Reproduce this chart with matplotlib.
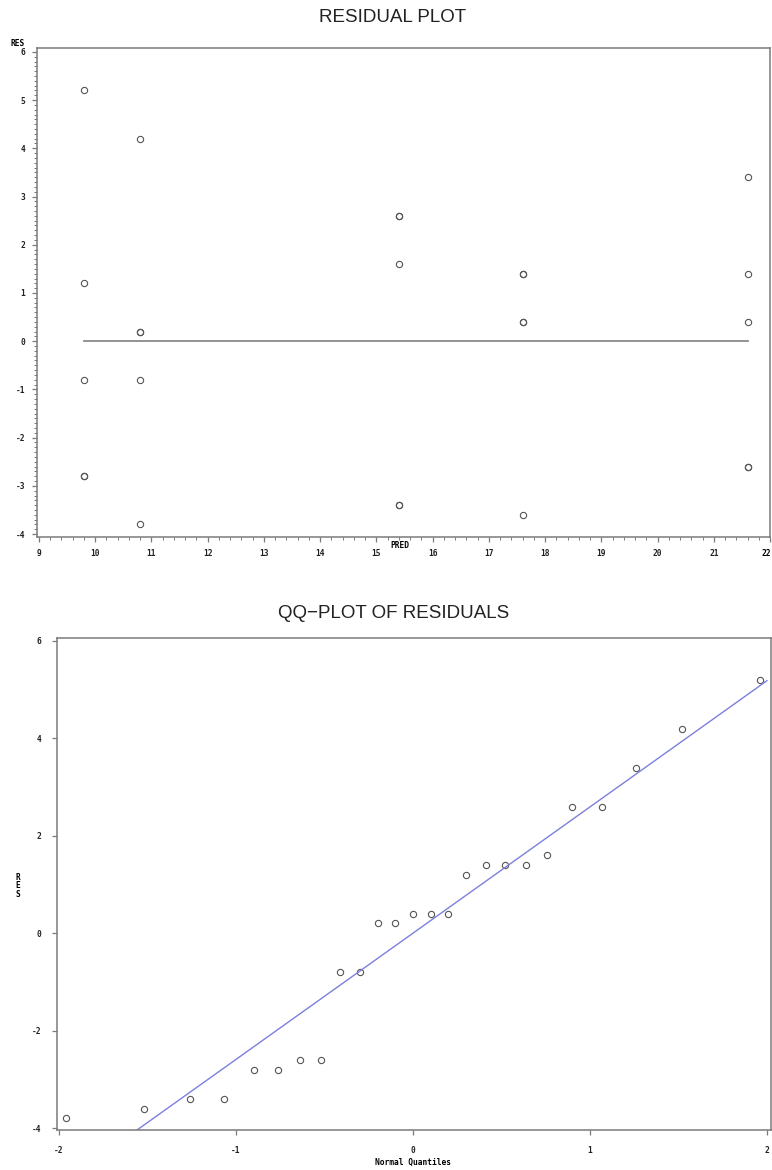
import numpy as np
import matplotlib
matplotlib.use("Agg")
import matplotlib.pyplot as plt
from matplotlib.ticker import MultipleLocator, FuncFormatter

plt.rcParams["axes.unicode_minus"] = False

# predicted values (group means) and the residuals in each group
pred = [9.8, 10.8, 15.4, 17.6, 21.6]
res_98 = [5.2, 1.2, -0.8, -2.8, -2.8]
res_108 = [4.2, 0.2, 0.2, -0.8, -3.8]
res_154 = [2.6, 2.6, 1.6, -3.4, -3.4]
res_176 = [1.4, 1.4, 0.4, 0.4, -3.6]
res_216 = [3.4, 1.4, 0.4, -2.6, -2.6]
groups = [res_98, res_108, res_154, res_176, res_216]

# normal quantiles for the sorted residuals
quantiles = [-1.96, -1.52, -1.26, -1.07, -0.90, -0.76, -0.64, -0.52, -0.41,
             -0.30, -0.20, -0.10, 0.0, 0.10, 0.20, 0.30, 0.41, 0.52, 0.64,
             0.76, 0.90, 1.07, 1.26, 1.52, 1.96]

TICKFONT = dict(family="DejaVu Sans Mono", weight="bold", size=5.7)
SPINE = "#7a7a7a"
MARK = "#555555"

fig = plt.figure(figsize=(7.72, 11.70), dpi=100)


def style_axes(ax):
    for s in ax.spines.values():
        s.set_color(SPINE)
        s.set_linewidth(1.1)
    ax.tick_params(direction="out", colors=SPINE, length=3.5, width=0.9,
                   labelcolor="#222222")
    ax.tick_params(which="minor", direction="out", colors=SPINE, length=2, width=0.7)
    for lab in ax.get_xticklabels() + ax.get_yticklabels():
        lab.set_fontproperties(matplotlib.font_manager.FontProperties(**TICKFONT))


# ---- residual plot ----
ax1 = fig.add_axes([37 / 772, 1 - 537 / 1170, 733 / 772, 489 / 1170])
for x, r in zip(pred, groups):
    ax1.plot([x] * len(r), r, "o", ms=4.5, mfc="none", mec=MARK, mew=0.8)
ax1.plot([pred[0], pred[-1]], [0, 0], color="#8a8a8a", lw=1.3)
ax1.set_xlim(8.965, 22.0)
ax1.set_ylim(-4.06, 6.08)
ax1.xaxis.set_major_locator(MultipleLocator(1))
ax1.xaxis.set_minor_locator(MultipleLocator(0.2))
# last label sits on the figure edge, drawn separately below
ax1.xaxis.set_major_formatter(FuncFormatter(lambda v, p: "" if v >= 22 else "%d" % v))
ax1.yaxis.set_major_locator(MultipleLocator(1))
ax1.yaxis.set_minor_locator(MultipleLocator(0.1))
ax1.tick_params(pad=5)
style_axes(ax1)
fig.text(771 / 772, 1 - 553 / 1170, "22", ha="right", va="center", **TICKFONT)

fig.text(393 / 772, 1 - 17 / 1170, "RESIDUAL PLOT", ha="center", va="center",
         family="Liberation Sans", fontsize=13.5, color="#222222")
fig.text(18 / 772, 1 - 44 / 1170, "RES", ha="center", va="center", **TICKFONT)
fig.text(400 / 772, 1 - 545 / 1170, "PRED", ha="center", va="center", **TICKFONT)

# ---- QQ plot ----
res_sorted = sorted(sum(groups, []))
sd = np.std(res_sorted, ddof=1)

ax2 = fig.add_axes([57 / 772, 1 - 1130 / 1170, 714 / 772, 492 / 1170])
ax2.plot(quantiles, res_sorted, "o", ms=4.5, mfc="none", mec=MARK, mew=0.8)
ax2.plot([-2, 2], [-2 * sd, 2 * sd], color="#7b7fe0", lw=1.0)
ax2.set_xlim(-2.011, 2.023)
ax2.set_ylim(-4.04, 6.06)
ax2.xaxis.set_major_locator(MultipleLocator(1))
ax2.yaxis.set_major_locator(MultipleLocator(2))
ax2.tick_params(pad=8)
style_axes(ax2)

fig.text(394 / 772, 1 - 614 / 1170, "QQ\u2212PLOT OF RESIDUALS", ha="center", va="center",
         family="Liberation Sans", fontsize=13.5, color="#222222")
fig.text(18 / 772, 1 - 886 / 1170, "R\nE\nS", ha="center", va="center",
         linespacing=0.9, **TICKFONT)
fig.text(413 / 772, 1 - 1162 / 1170, "Normal Quantiles", ha="center", va="center",
         **TICKFONT)

fig.savefig("out.png", dpi=100)
